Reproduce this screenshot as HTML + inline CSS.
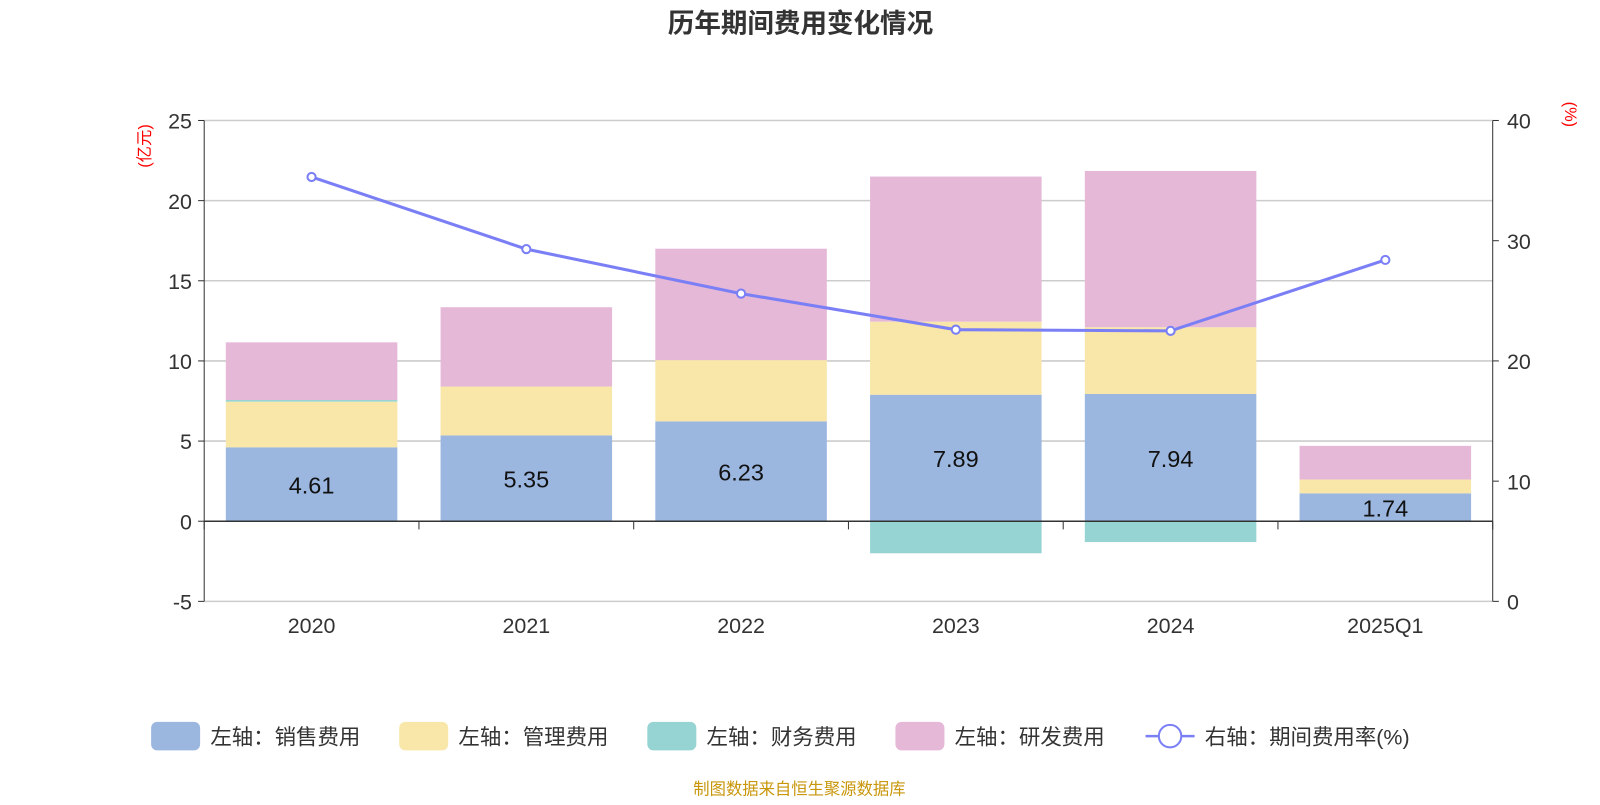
<!DOCTYPE html>
<html><head><meta charset="utf-8"><style>
body{margin:0;background:#fff;font-family:"Liberation Sans","Noto Sans CJK SC",sans-serif}
</style></head><body>
<svg width="1600" height="800" xmlns="http://www.w3.org/2000/svg"><g id="c" transform="scale(1.021)"></g></svg>
<script>
const categories=["2020","2021","2022","2023","2024","2025Q1"];
const sales=[4.61,5.35,6.23,7.89,7.94,1.74];
const mgmt=[2.85,3.05,3.82,4.56,4.16,0.86];
const fin=[0.1,-0.05,-0.02,-2.0,-1.3,-0.05];
const rd=[3.6,4.95,6.95,9.05,9.75,2.1];
const rate=[35.3,29.3,25.6,22.6,22.5,28.4];
const leftTicks=[-5,0,5,10,15,20,25];
const rightTicks=[0,10,20,30,40];
const NS="http://www.w3.org/2000/svg",svg=document.getElementById('c');
const X0=200,X1=1462,YT=118,YB=589;
const yL=v=>YB-(v+5)/30*(YB-YT);
const yR=v=>YB-v/40*(YB-YT);
const bw=(X1-X0)/categories.length;
const xc=i=>X0+bw*(i+0.5);
function el(t,a,txt){const e=document.createElementNS(NS,t);for(const k in a)e.setAttribute(k,a[k]);if(txt!==undefined)e.textContent=txt;svg.appendChild(e);return e;}
let e=el('text',{x:784,y:32,'text-anchor':'middle','font-size':26,'font-weight':'bold',fill:'#333'},'历年期间费用变化情况');

leftTicks.forEach(v=>{const y=yL(v);
 e=el('line',{x1:X0,x2:X1,y1:y,y2:y,stroke:'#ccc','stroke-width':1.5});
 e=el('line',{x1:X0-6,x2:X0,y1:y,y2:y,stroke:'#333'});
 e=el('text',{x:X0-12,y:y+8,'text-anchor':'end','font-size':21,fill:'#333'},v);
});
rightTicks.forEach(v=>{const y=yR(v);
 e=el('line',{x1:X1,x2:X1+6,y1:y,y2:y,stroke:'#333'});
 e=el('text',{x:X1+14,y:y+8,'font-size':21,fill:'#333'},v);
});
e=el('line',{x1:X0,x2:X0,y1:YT,y2:YB,stroke:'#333'});
e=el('line',{x1:X1,x2:X1,y1:YT,y2:YB,stroke:'#333'});
e=el('text',{x:0,y:0,'font-size':16,fill:'red',transform:`translate(147,143) rotate(-90)`,'text-anchor':'middle'},'(亿元)');
e=el('text',{x:0,y:0,'font-size':16,fill:'red',transform:`translate(1533,112) rotate(90)`,'text-anchor':'middle'},'(%)');
const colors={sales:'#9bb7e0',mgmt:'#f8e7a8',fin:'#96d3d3',rd:'#e6b8d8'};
categories.forEach((c,i)=>{
 const x=xc(i)-84,w=168;let pos=0,neg=0;
 [[sales,'sales'],[mgmt,'mgmt'],[fin,'fin'],[rd,'rd']].forEach(([arr,k])=>{
  const v=arr[i];let y0,y1;
  if(v>=0){y0=yL(pos+v);y1=yL(pos);pos+=v;}else{y0=yL(neg);y1=yL(neg+v);neg+=v;}
  e=el('rect',{x:x,y:y0,width:w,height:Math.max(0,y1-y0),fill:colors[k]});
  
 });
 e=el('text',{x:xc(i),y:yL(sales[i]/2)+9,'text-anchor':'middle','font-size':23,fill:'#111'},sales[i].toFixed(2));
 
 e=el('text',{x:xc(i),y:620,'text-anchor':'middle','font-size':21,fill:'#333'},c);
 
});
e=el('line',{x1:X0,x2:X1,y1:yL(0),y2:yL(0),stroke:'#333','stroke-width':1.5});
for(let i=0;i<=categories.length;i++){e=el('line',{x1:X0+bw*i,x2:X0+bw*i,y1:yL(0),y2:yL(0)+8,stroke:'#333'});}
e=el('polyline',{points:rate.map((v,i)=>xc(i)+','+yR(v)).join(' '),fill:'none',stroke:'#7b7ff5','stroke-width':3});

rate.forEach((v,i)=>{e=el('circle',{cx:xc(i),cy:yR(v),r:4,fill:'#fff',stroke:'#7b7ff5','stroke-width':2});});
const leg=[['左轴：销售费用',colors.sales,148],['左轴：管理费用',colors.mgmt,391],['左轴：财务费用',colors.fin,634],['左轴：研发费用',colors.rd,877]];
leg.forEach(([t,c,x])=>{
 e=el('rect',{x:x,y:707,width:48,height:28,rx:6,fill:c});
 e=el('text',{x:x+58,y:729,'font-size':21,fill:'#333'},t);
});
e=el('line',{x1:1122,x2:1170,y1:721,y2:721,stroke:'#7b7ff5','stroke-width':2.5});
e=el('circle',{cx:1146,cy:721,r:11,fill:'#fff',stroke:'#7b7ff5','stroke-width':2});
e=el('text',{x:1180,y:729,'font-size':21,fill:'#333'},'右轴：期间费用率(%)');
e=el('text',{x:783,y:778,'text-anchor':'middle','font-size':16,fill:'#c8960a'},'制图数据来自恒生聚源数据库');
</script>
</body></html>
